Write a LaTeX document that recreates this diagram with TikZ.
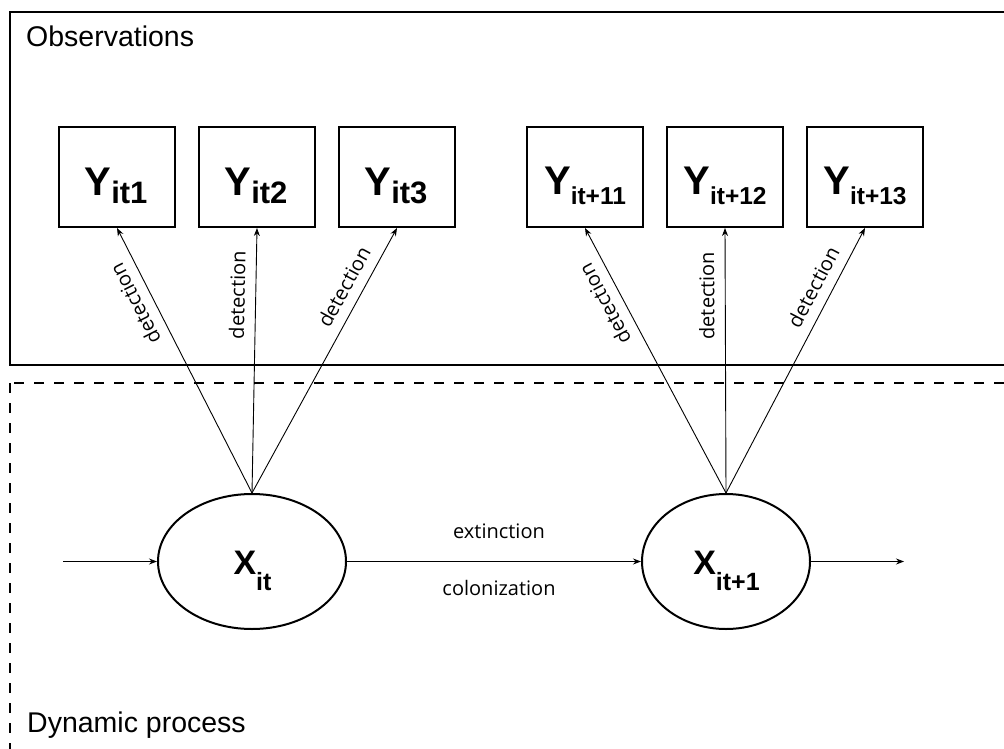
\documentclass[tikz,border=0pt]{standalone}
\usepackage{fontspec}
\setmainfont{Liberation Sans}
\newfontfamily\osans{Open Sans}
\usetikzlibrary{arrows.meta,shapes.geometric}
\begin{document}
\begin{tikzpicture}[x=1pt,y=-1pt,
  ybox/.style={draw,line width=2pt,minimum width=116pt,minimum height=100pt,inner sep=0pt},
  state/.style={draw,ellipse,line width=2pt,inner sep=0pt},
  arr/.style={-{Stealth[length=8pt,width=6pt]},line width=0.9pt},
  det/.style={font=\osans\fontsize{20}{24}\selectfont, sloped, allow upside down, pos=0.745, above=7pt},
  small/.style={font=\osans\fontsize{20}{24}\selectfont, anchor=base},
  big/.style={font=\fontsize{28.5}{30}\selectfont, anchor=base west, inner sep=0pt},
  ytext/.style={font=\bfseries\fontsize{40}{40}\selectfont, anchor=base, inner sep=0pt},
  xtext/.style={font=\bfseries\fontsize{34}{34}\selectfont, anchor=base, inner sep=0pt}
]
\useasboundingbox (0,0) rectangle (1004,749);
\clip (0,0) rectangle (1004,749);

% frames
\draw[line width=2pt] (10,12) rectangle (1030,365);
\draw[line width=2pt, dash pattern=on 10pt off 10pt] (10,383) rectangle (1030,790);

\node[big] (obs) at (26,47) {Observations};
\node[big] (dyn) at (27,732) {Dynamic process};

% observation boxes
\node[ybox] (y1) at (117,177) {};
\node[ybox] (y2) at (257,177) {};
\node[ybox] (y3) at (397,177) {};
\node[ybox] (y4) at (585,177) {};
\node[ybox] (y5) at (725,177) {};
\node[ybox] (y6) at (865,177) {};

\node[ytext] (ty1) at (116,195) {Y\lower9pt\hbox{\fontsize{31}{31}\selectfont it1}};
\node[ytext] (ty2) at (256,195) {Y\lower9pt\hbox{\fontsize{31}{31}\selectfont it2}};
\node[ytext] (ty3) at (396,195) {Y\lower9pt\hbox{\fontsize{31}{31}\selectfont it3}};
\node[ytext] (ty4) at (585,194) {Y\lower10pt\hbox{\fontsize{24.5}{25}\selectfont it+11}};
\node[ytext] (ty5) at (725,194) {Y\lower10pt\hbox{\fontsize{24.5}{25}\selectfont it+12}};
\node[ytext] (ty6) at (865,194) {Y\lower10pt\hbox{\fontsize{24.5}{25}\selectfont it+13}};

% states
\node[state, minimum width=188pt, minimum height=135pt] (x1) at (252,561.5) {};
\node[state, minimum width=168pt, minimum height=135pt] (x2) at (726,561.5) {};

\node[xtext] (tx1) at (252.5,574) {X\lower16pt\hbox{\fontsize{25}{25}\selectfont it}};
\node[xtext] (tx2) at (726.5,574) {X\lower16pt\hbox{\fontsize{25}{25}\selectfont it+1}};

% detection arrows
\draw[arr] (x1.north) -- node[det] {detection} (y1.south);
\draw[arr] (x1.north) -- node[det] {detection} (y2.south);
\draw[arr] (x1.north) -- node[det] {detection} (y3.south);
\draw[arr] (x2.north) -- node[det] {detection} (y4.south);
\draw[arr] (x2.north) -- node[det] {detection} (y5.south);
\draw[arr] (x2.north) -- node[det] {detection} (y6.south);

% dynamics
\coordinate (in) at (63,561.5);
\coordinate (out) at (904,561.5);
\draw[arr] (in) -- (x1.west);
\draw[arr] (x1.east) -- (x2.west);
\draw[arr] (x2.east) -- (out);
\node[small] (ext) at (499,538) {extinction};
\node[small] (col) at (499,595) {colonization};
\end{tikzpicture}
\end{document}
